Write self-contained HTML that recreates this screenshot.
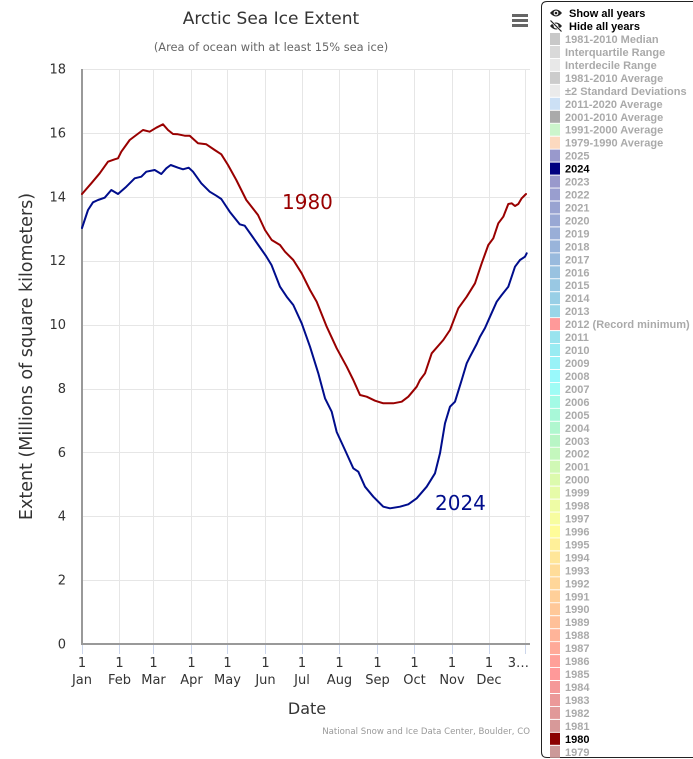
<!DOCTYPE html>
<html><head><meta charset="utf-8"><style>
html,body{margin:0;padding:0;background:#fff;width:693px;height:759px;overflow:hidden}
svg{display:block}
.t{font-family:"DejaVu Sans","Liberation Sans",sans-serif}
.lg{font-family:"Liberation Sans",Arial,sans-serif;font-weight:bold;font-size:11px}
</style></head><body>
<svg width="693" height="759" viewBox="0 0 693 759" xmlns="http://www.w3.org/2000/svg">
<rect width="693" height="759" fill="#fff"/>
<text class="t" x="271" y="24" font-size="17" fill="#333" text-anchor="middle">Arctic Sea Ice Extent</text>
<text class="t" x="271" y="51" font-size="11.4" fill="#666" text-anchor="middle">(Area of ocean with at least 15% sea ice)</text>
<rect x="512" y="14" width="16" height="3" fill="#666"/>
<rect x="512" y="19" width="16" height="3" fill="#666"/>
<rect x="512" y="24" width="16" height="3" fill="#666"/>
<g stroke="#e6e6e6" stroke-width="1">
<line x1="82" x2="530" y1="69.5" y2="69.5"/>
<line x1="82" x2="530" y1="133.5" y2="133.5"/>
<line x1="82" x2="530" y1="197.5" y2="197.5"/>
<line x1="82" x2="530" y1="261.5" y2="261.5"/>
<line x1="82" x2="530" y1="325.5" y2="325.5"/>
<line x1="82" x2="530" y1="389.5" y2="389.5"/>
<line x1="82" x2="530" y1="452.5" y2="452.5"/>
<line x1="82" x2="530" y1="516.5" y2="516.5"/>
<line x1="82" x2="530" y1="580.5" y2="580.5"/>
</g>
<g stroke="#e6e6e6" stroke-width="1">
<line x1="119.5" x2="119.5" y1="69" y2="644"/>
<line x1="153.5" x2="153.5" y1="69" y2="644"/>
<line x1="191.5" x2="191.5" y1="69" y2="644"/>
<line x1="227.5" x2="227.5" y1="69" y2="644"/>
<line x1="265.5" x2="265.5" y1="69" y2="644"/>
<line x1="302.5" x2="302.5" y1="69" y2="644"/>
<line x1="339.5" x2="339.5" y1="69" y2="644"/>
<line x1="377.5" x2="377.5" y1="69" y2="644"/>
<line x1="414.5" x2="414.5" y1="69" y2="644"/>
<line x1="452.5" x2="452.5" y1="69" y2="644"/>
<line x1="489.5" x2="489.5" y1="69" y2="644"/>
<line x1="525.5" x2="525.5" y1="69" y2="644"/>
</g>
<g stroke="#ccd6eb" stroke-width="1">
<line x1="82.5" x2="82.5" y1="645" y2="654"/>
<line x1="119.5" x2="119.5" y1="645" y2="654"/>
<line x1="153.5" x2="153.5" y1="645" y2="654"/>
<line x1="191.5" x2="191.5" y1="645" y2="654"/>
<line x1="227.5" x2="227.5" y1="645" y2="654"/>
<line x1="265.5" x2="265.5" y1="645" y2="654"/>
<line x1="302.5" x2="302.5" y1="645" y2="654"/>
<line x1="339.5" x2="339.5" y1="645" y2="654"/>
<line x1="377.5" x2="377.5" y1="645" y2="654"/>
<line x1="414.5" x2="414.5" y1="645" y2="654"/>
<line x1="452.5" x2="452.5" y1="645" y2="654"/>
<line x1="489.5" x2="489.5" y1="645" y2="654"/>
<line x1="525.5" x2="525.5" y1="645" y2="654"/>
</g>
<line x1="82" x2="82" y1="69" y2="645" stroke="#999" stroke-width="2"/>
<line x1="81" x2="530" y1="644" y2="644" stroke="#999" stroke-width="2"/>
<g class="t" font-size="13" fill="#333" text-anchor="end">
<text x="66" y="648.5">0</text>
<text x="66" y="584.6">2</text>
<text x="66" y="520.7">4</text>
<text x="66" y="456.9">6</text>
<text x="66" y="393">8</text>
<text x="66" y="329.1">10</text>
<text x="66" y="265.2">12</text>
<text x="66" y="201.3">14</text>
<text x="66" y="137.5">16</text>
<text x="66" y="73.6">18</text>
</g>
<g class="t" font-size="13" fill="#333" text-anchor="middle">
<text x="82" y="667">1</text><text x="82" y="684">Jan</text>
<text x="119.5" y="667">1</text><text x="119.5" y="684">Feb</text>
<text x="153.5" y="667">1</text><text x="153.5" y="684">Mar</text>
<text x="191.5" y="667">1</text><text x="191.5" y="684">Apr</text>
<text x="227.5" y="667">1</text><text x="227.5" y="684">May</text>
<text x="265.5" y="667">1</text><text x="265.5" y="684">Jun</text>
<text x="302" y="667">1</text><text x="302" y="684">Jul</text>
<text x="339.5" y="667">1</text><text x="339.5" y="684">Aug</text>
<text x="377.5" y="667">1</text><text x="377.5" y="684">Sep</text>
<text x="414.5" y="667">1</text><text x="414.5" y="684">Oct</text>
<text x="452" y="667">1</text><text x="452" y="684">Nov</text>
<text x="489" y="667">1</text><text x="489" y="684">Dec</text>
<text x="529" y="667" text-anchor="end">3…</text>
</g>
<text class="t" x="307" y="714" font-size="16" fill="#333" text-anchor="middle">Date</text>
<text class="t" transform="translate(32,356.5) rotate(-90)" font-size="17.5" fill="#333" text-anchor="middle">Extent (Millions of square kilometers)</text>
<text class="t" x="530" y="734" font-size="8.6" fill="#999" text-anchor="end">National Snow and Ice Data Center, Boulder, CO</text>
<polyline fill="none" stroke="#990000" stroke-width="2" stroke-linejoin="round" stroke-linecap="round" points="82,194 91.3,183.3 99.7,173.3 108,161.7 114.7,159.3 118,158.3 121.3,151.7 129.7,140 136.3,135 143,130 149.7,131.7 156.3,127.7 163,124.3 168,130 173,134 178,134.3 184.7,135.7 189.7,135.7 198,143.3 206.3,144.3 214.7,150 221.3,154.3 228,165 236.3,180 246.3,200 258,215 265,230 271.7,240 280,245 285,251.7 293.3,260 301.7,273.3 310,290 316.7,301.7 326.7,326.7 336.7,348.3 346.7,366.7 353.3,380 360,395 366.7,396.7 375,400.7 383.3,403.3 393.3,403.3 401.7,401.7 408.3,396.7 416.7,386.7 420,380 425,373.3 431.7,353.3 443.3,340 450,330 458.3,308.3 466.7,296.7 475,283.3 481.7,263.3 488.3,245 493.3,238.3 498.3,223.3 503.3,216.7 508.3,204 511.7,203.3 515,206 518.3,204 521.7,198.3 526,194"/>
<polyline fill="none" stroke="#000d8c" stroke-width="2" stroke-linejoin="round" stroke-linecap="round" points="82,228 83,225 88,210 93,202.3 98,200 104.7,197.7 111.3,190 118,194 126.3,186.7 134.7,178.3 141.3,176.7 146.3,171.7 154.7,170 161.3,174 166.3,168.3 170.7,165 178,167.7 183,169.3 188.7,167.7 193,171.7 201.3,183.3 209.7,191.7 216.3,195.7 221.3,199 229.7,211.7 239.7,224.3 244.7,225.7 251.3,235 259.7,247 266,256 271.5,265 280,286.7 286.7,296.7 293.3,305 301.7,323.3 310,346.7 318.3,373.3 325,398.3 331.7,411.7 336.7,432 345,450 353.3,468.3 358.3,471.7 365,486.7 373.3,496.7 383.3,506.7 390,508.3 400,506.7 408.3,504.3 416.7,498.3 426.7,486.7 435,473.3 440,453.3 445,423.3 450,406.7 455,401.7 461.7,380 466.7,363.3 470,356.7 476.7,344 480,336.7 485,328 490,316.7 496.7,301.7 501.7,295 508.3,286.7 515,266.7 520,260 525,256.7 526.7,253.3"/>
<text class="t" x="282" y="209" font-size="20" fill="#990000">1980</text>
<text class="t" x="435" y="510" font-size="20" fill="#000d8c">2024</text>
<path d="M693,1.5 L547,1.5 Q541.5,1.5 541.5,7 L541.5,752 Q541.5,757.5 547,757.5 L693,757.5" fill="none" stroke="#222" stroke-width="1"/>
<g fill="#222">
<path d="M550,13 Q556,6 562,13 Q556,20 550,13 Z" fill="#222"/>
<circle cx="556" cy="13" r="2.4" fill="#fff"/>
<circle cx="556" cy="13" r="1.3" fill="#222"/>
<path d="M550,26 Q556,19 562,26 Q556,33 550,26 Z" fill="#222"/>
<circle cx="556" cy="26" r="2.4" fill="#fff"/>
<line x1="550" y1="20" x2="562" y2="32" stroke="#fff" stroke-width="2.5"/>
<line x1="550.5" y1="20.5" x2="561.5" y2="31.5" stroke="#222" stroke-width="1.2"/>
</g>
<text class="lg" x="569" y="17" fill="#000">Show all years</text>
<text class="lg" x="569" y="30" fill="#000">Hide all years</text>
<g class="lg" fill="#aaa">
<rect x="550" y="33" width="10" height="12" fill="#c8c8c8"/><text x="565" y="43">1981-2010 Median</text>
<rect x="550" y="46" width="10" height="12" fill="#d9d9d9"/><text x="565" y="56">Interquartile Range</text>
<rect x="550" y="58.9" width="10" height="12" fill="#e8e8e8"/><text x="565" y="68.9">Interdecile Range</text>
<rect x="550" y="71.9" width="10" height="12" fill="#cccccc"/><text x="565" y="81.9">1981-2010 Average</text>
<rect x="550" y="84.8" width="10" height="12" fill="#ebebeb"/><text x="565" y="94.8">±2 Standard Deviations</text>
<rect x="550" y="97.8" width="10" height="12" fill="#cce0f5"/><text x="565" y="107.8">2011-2020 Average</text>
<rect x="550" y="110.8" width="10" height="12" fill="#aaaaaa"/><text x="565" y="120.8">2001-2010 Average</text>
<rect x="550" y="123.7" width="10" height="12" fill="#ccf5cc"/><text x="565" y="133.7">1991-2000 Average</text>
<rect x="550" y="136.7" width="10" height="12" fill="#fcd9bf"/><text x="565" y="146.7">1979-1990 Average</text>
<rect x="550" y="149.6" width="10" height="12" fill="#9999cc"/><text x="565" y="159.6">2025</text>
<rect x="550" y="162.6" width="10" height="12" fill="#000080"/><text x="565" y="172.6" fill="#000">2024</text>
<rect x="550" y="175.6" width="10" height="12" fill="#9999cc"/><text x="565" y="185.6">2023</text>
<rect x="550" y="188.5" width="10" height="12" fill="#999ecf"/><text x="565" y="198.5">2022</text>
<rect x="550" y="201.5" width="10" height="12" fill="#99a3d1"/><text x="565" y="211.5">2021</text>
<rect x="550" y="214.4" width="10" height="12" fill="#99a8d4"/><text x="565" y="224.4">2020</text>
<rect x="550" y="227.4" width="10" height="12" fill="#99aed7"/><text x="565" y="237.4">2019</text>
<rect x="550" y="240.4" width="10" height="12" fill="#99b4da"/><text x="565" y="250.4">2018</text>
<rect x="550" y="253.3" width="10" height="12" fill="#99badd"/><text x="565" y="263.3">2017</text>
<rect x="550" y="266.3" width="10" height="12" fill="#99c2e0"/><text x="565" y="276.3">2016</text>
<rect x="550" y="279.2" width="10" height="12" fill="#99c8e3"/><text x="565" y="289.2">2015</text>
<rect x="550" y="292.2" width="10" height="12" fill="#99cfe6"/><text x="565" y="302.2">2014</text>
<rect x="550" y="305.2" width="10" height="12" fill="#99d6e8"/><text x="565" y="315.2">2013</text>
<rect x="550" y="318.1" width="10" height="12" fill="#ff9999"/><text x="565" y="328.1">2012 (Record minimum)</text>
<rect x="550" y="331.1" width="10" height="12" fill="#99e3ee"/><text x="565" y="341.1">2011</text>
<rect x="550" y="344" width="10" height="12" fill="#99ebf2"/><text x="565" y="354">2010</text>
<rect x="550" y="357" width="10" height="12" fill="#99f2f7"/><text x="565" y="367">2009</text>
<rect x="550" y="370" width="10" height="12" fill="#99f9fb"/><text x="565" y="380">2008</text>
<rect x="550" y="382.9" width="10" height="12" fill="#9ffcf5"/><text x="565" y="392.9">2007</text>
<rect x="550" y="395.9" width="10" height="12" fill="#a3fae5"/><text x="565" y="405.9">2006</text>
<rect x="550" y="408.8" width="10" height="12" fill="#a8f8d8"/><text x="565" y="418.8">2005</text>
<rect x="550" y="421.8" width="10" height="12" fill="#b0f7cf"/><text x="565" y="431.8">2004</text>
<rect x="550" y="434.8" width="10" height="12" fill="#b8f5c5"/><text x="565" y="444.8">2003</text>
<rect x="550" y="447.7" width="10" height="12" fill="#c4f7bd"/><text x="565" y="457.7">2002</text>
<rect x="550" y="460.7" width="10" height="12" fill="#d0f8b5"/><text x="565" y="470.7">2001</text>
<rect x="550" y="473.6" width="10" height="12" fill="#dcfaad"/><text x="565" y="483.6">2000</text>
<rect x="550" y="486.6" width="10" height="12" fill="#e6fba8"/><text x="565" y="496.6">1999</text>
<rect x="550" y="499.6" width="10" height="12" fill="#eefca5"/><text x="565" y="509.6">1998</text>
<rect x="550" y="512.5" width="10" height="12" fill="#f7fda0"/><text x="565" y="522.5">1997</text>
<rect x="550" y="525.5" width="10" height="12" fill="#fffc99"/><text x="565" y="535.5">1996</text>
<rect x="550" y="538.4" width="10" height="12" fill="#fff099"/><text x="565" y="548.4">1995</text>
<rect x="550" y="551.4" width="10" height="12" fill="#ffe699"/><text x="565" y="561.4">1994</text>
<rect x="550" y="564.4" width="10" height="12" fill="#ffdc99"/><text x="565" y="574.4">1993</text>
<rect x="550" y="577.3" width="10" height="12" fill="#ffd699"/><text x="565" y="587.3">1992</text>
<rect x="550" y="590.3" width="10" height="12" fill="#ffcf99"/><text x="565" y="600.3">1991</text>
<rect x="550" y="603.2" width="10" height="12" fill="#ffc899"/><text x="565" y="613.2">1990</text>
<rect x="550" y="616.2" width="10" height="12" fill="#ffc099"/><text x="565" y="626.2">1989</text>
<rect x="550" y="629.2" width="10" height="12" fill="#ffb499"/><text x="565" y="639.2">1988</text>
<rect x="550" y="642.1" width="10" height="12" fill="#ffaa99"/><text x="565" y="652.1">1987</text>
<rect x="550" y="655.1" width="10" height="12" fill="#ffa099"/><text x="565" y="665.1">1986</text>
<rect x="550" y="668" width="10" height="12" fill="#ff9999"/><text x="565" y="678">1985</text>
<rect x="550" y="681" width="10" height="12" fill="#f59999"/><text x="565" y="691">1984</text>
<rect x="550" y="694" width="10" height="12" fill="#eb9999"/><text x="565" y="704">1983</text>
<rect x="550" y="706.9" width="10" height="12" fill="#e19999"/><text x="565" y="716.9">1982</text>
<rect x="550" y="719.9" width="10" height="12" fill="#d79999"/><text x="565" y="729.9">1981</text>
<rect x="550" y="732.8" width="10" height="12" fill="#8b0000"/><text x="565" y="742.8" fill="#000">1980</text>
<rect x="550" y="745.8" width="10" height="12" fill="#cc9999"/><text x="565" y="755.8">1979</text>
</g>
</svg>
</body></html>
